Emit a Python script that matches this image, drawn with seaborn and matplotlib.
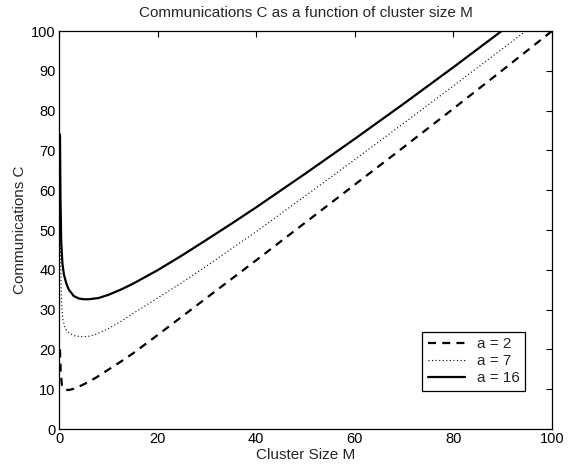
import matplotlib
matplotlib.use("Agg")
import matplotlib.pyplot as plt
import seaborn as sns
import pandas as pd

# ---- data ----
m_a2 = [0.2, 0.35, 0.6, 1.0, 1.5, 2, 3, 5, 7.5, 10, 12.5, 15, 20, 25, 30, 40, 50, 60, 70, 80, 90, 100]
c_a2 = [20, 14, 11, 10.0, 9.85, 9.8, 10.1, 11.2, 12.9, 14.9, 16.9, 19.0, 23.6, 28.3, 33.0, 42.4, 51.9, 61.4, 70.9, 80.5, 90.2, 100]

m_a7 = [0.2, 0.3, 0.5, 0.8, 1.2, 1.6, 2.2, 3.2, 4.5, 6, 7.5, 10, 12.5, 15, 20, 25, 30, 40, 50, 60, 70, 80, 90, 95, 97]
c_a7 = [66, 45, 32, 27.5, 25.5, 24.6, 24.0, 23.4, 23.2, 23.3, 23.8, 25.2, 27.0, 29.0, 32.9, 36.85, 41.0, 49.6, 58.6, 67.7, 76.9, 86.2, 95.6, 100.3, 102.2]

m_a16 = [0.2, 0.3, 0.45, 0.7, 1.0, 1.5, 2, 3, 4, 5, 6, 8, 10, 12.5, 15, 20, 25, 30, 35, 40, 50, 60, 70, 80, 90, 92]
c_a16 = [74, 58, 47, 41.5, 38.8, 36.5, 35.0, 33.4, 32.8, 32.6, 32.6, 32.9, 33.7, 35.0, 36.5, 39.9, 43.65, 47.6, 51.6, 55.7, 64.2, 72.9, 81.8, 90.9, 100.2, 102.1]

labels = ["a = 2", "a = 7", "a = 16"]

df = pd.concat([
    pd.DataFrame({"M": m_a2, "C": c_a2, "a": labels[0]}),
    pd.DataFrame({"M": m_a7, "C": c_a7, "a": labels[1]}),
    pd.DataFrame({"M": m_a16, "C": c_a16, "a": labels[2]}),
])

sns.set_style("white")
plt.rcParams["font.family"] = ["Liberation Sans", "DejaVu Sans"]
plt.rcParams["font.size"] = 11

fig = plt.figure(figsize=(5.77, 4.73), dpi=100)
ax = fig.add_axes([59 / 577, 44 / 473, 493 / 577, 398 / 473])

styles = {
    labels[0]: dict(lw=1.6, ls=(0, (3.6, 2.8))),
    labels[1]: dict(lw=0.8, ls=(0, (1, 2.2))),
    labels[2]: dict(lw=1.6, ls="-"),
}
for lab in labels:
    sub = df[df["a"] == lab]
    sns.lineplot(data=sub, x="M", y="C", ax=ax, color="black",
                 linewidth=styles[lab]["lw"], linestyle=styles[lab]["ls"],
                 label=lab, sort=True, estimator=None)

ax.set_xlim(0, 100)
ax.set_ylim(0, 100)
ax.set_xticks([0, 20, 40, 60, 80, 100])
ax.set_yticks(list(range(0, 101, 10)))
ax.tick_params(direction="in", length=4.5, width=0.8, top=True, right=True,
               labelsize=10.5, colors="black", pad=2.5)
for s in ax.spines.values():
    s.set_visible(True)
    s.set_color("black")
    s.set_linewidth(0.9)

ax.set_xlabel("Cluster Size M", fontsize=11, labelpad=1)
ax.set_ylabel("Communications C", fontsize=11, labelpad=3)
ax.set_title("Communications C as a function of cluster size M", fontsize=11, pad=10)

leg = ax.legend(loc="lower right", bbox_to_anchor=(0.945, 0.096), frameon=True,
                fancybox=False, shadow=False, edgecolor="black", framealpha=1,
                fontsize=11, handlelength=2.45, borderpad=0.35, labelspacing=0.2,
                handletextpad=0.75, borderaxespad=0)
leg.get_frame().set_linewidth(0.9)

fig.savefig("out.png", dpi=100)
